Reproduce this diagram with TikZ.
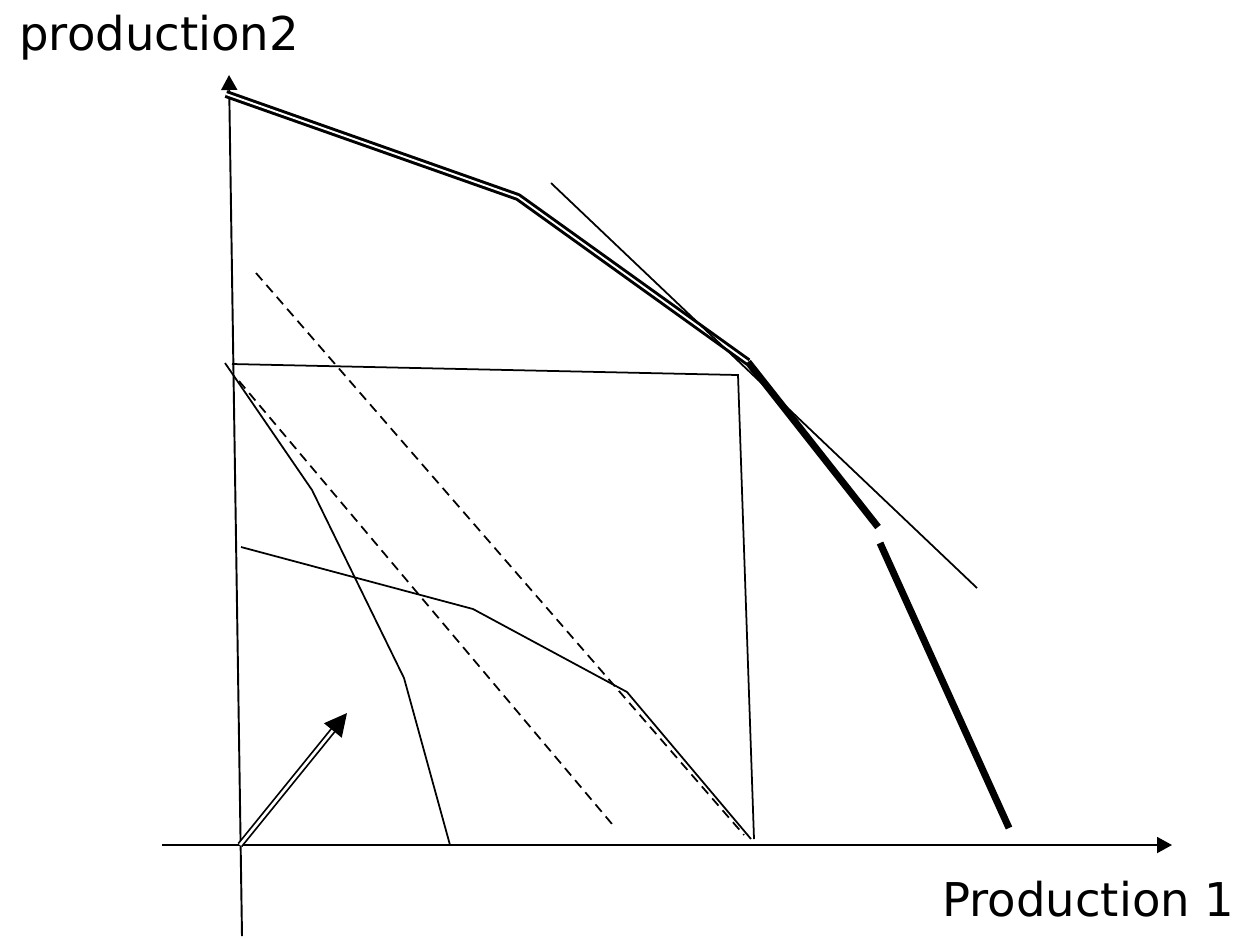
\documentclass[tikz,border=0pt]{standalone}
\usepackage{fontspec}
\setmainfont{DejaVu Sans}
\usetikzlibrary{arrows.meta}

\begin{document}
\begin{tikzpicture}[
    x=0.02cm, y=-0.02cm,
    axis/.style={line width=1.1pt, -{Triangle[length=0.3cm, width=0.32cm]}},
    thin line/.style={line width=1pt},
    dash line/.style={line width=1pt, dash pattern=on 5.5pt off 3.5pt},
    frontier/.style={line width=1.7pt, double, double distance=1.1pt, line join=bevel},
    thick frontier/.style={line width=4pt},
    direction/.style={line width=1pt, double, double distance=1.5pt, -{Triangle[length=0.45cm, width=0.45cm]}},
    axis label/.style={font=\fontsize{26.5}{30}\selectfont, inner sep=0pt}
]
\useasboundingbox (0,0) rectangle (1243,938);

% Define positions
\coordinate (origin) at (240,845);
\coordinate (xstart) at (162,845);
\coordinate (xend) at (1172,845);
\coordinate (ystart) at (242,936);
\coordinate (yend) at (229,75);

% Axes
\draw[axis] (xstart) -- (xend);
\draw[axis] (ystart) -- (yend);
\node[axis label, anchor=base west] (ylabel) at (19,50) {production2};
\node[axis label, anchor=base west] (xlabel) at (942,916) {Production 1};

% Outer frontier (double, then thick)
\coordinate (f1) at (226,94);
\coordinate (f2) at (518,197);
\coordinate (f3) at (748,362);
\coordinate (f4) at (878,527);
\coordinate (f5) at (880,543);
\coordinate (f6) at (1009,828);
\draw[frontier] (f1) -- (f2) -- (f3);
\draw[thick frontier] (f3) -- (f4);
\draw[thick frontier] (f5) -- (f6);

% Tangent line
\coordinate (t1) at (551,183);
\coordinate (t2) at (977,588);
\draw[thin line] (t1) -- (t2);

% Box
\coordinate (b1) at (232,364);
\coordinate (b2) at (738,375);
\coordinate (b3) at (754,839);
\draw[thin line] (b1) -- (b2) -- (b3);

% Inner frontiers
\coordinate (p1) at (225,363);
\coordinate (p2) at (312,490);
\coordinate (p3) at (404,678);
\coordinate (p4) at (450,845);
\draw[thin line] (p1) -- (p2) -- (p3) -- (p4);

\coordinate (q1) at (241,547);
\coordinate (q2) at (473,609);
\coordinate (q3) at (627,692);
\coordinate (q4) at (751,839);
\draw[thin line] (q1) -- (q2) -- (q3) -- (q4);

% Iso lines
\coordinate (d1) at (256,273);
\coordinate (d2) at (744,835);
\draw[dash line] (d1) -- (d2);
\coordinate (d3) at (239,381);
\coordinate (d4) at (612,824);
\draw[dash line] (d3) -- (d4);

% Direction arrow
\coordinate (a1) at (347,713);
\draw[direction] (origin) -- (a1);

\end{tikzpicture}
\end{document}
